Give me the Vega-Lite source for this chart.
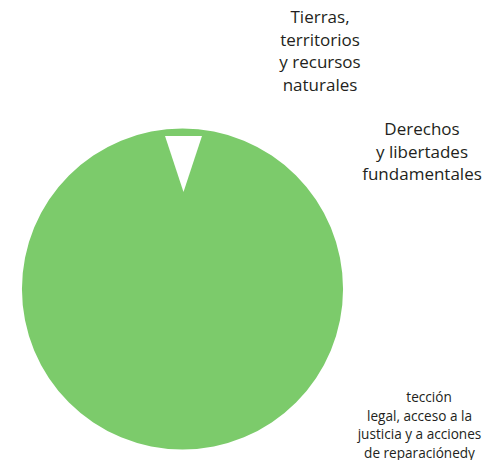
{
  "$schema": "https://vega.github.io/schema/vega-lite/v6.json",
  "width": 491,
  "height": 460,
  "autosize": {"type": "none"},
  "padding": 0,
  "background": "white",
  "config": {"view": {"stroke": null}},
  "datasets": {
    "pie": [{"category": "Protección legal, acceso a la justicia y a acciones de reparación", "value": 1, "cx": 182.5, "cy": 289}],
    "gap": [{"category": "Tierras, territorios y recursos naturales", "gx": 183.5, "gy": 164}],
    "bigLabels": [
      {"label": "Tierras,\nterritorios\ny recursos\nnaturales", "lx": 320, "ly": 23},
      {"label": "Derechos\ny libertades\nfundamentales", "lx": 422, "ly": 135}
    ],
    "smallLabels": [
      {"label": "tección", "lx": 429, "ly": 402},
      {"label": "legal, acceso a la\njusticia y a acciones\nde reparaciónedy", "lx": 419.5, "ly": 420.5}
    ]
  },
  "layer": [
    {
      "data": {"name": "pie"},
      "mark": {"type": "arc", "outerRadius": 160.5, "color": "#7ccb6b", "strokeWidth": 0},
      "encoding": {
        "theta": {"field": "value", "type": "quantitative"},
        "x": {"field": "cx", "type": "quantitative", "scale": {"domain": [0, 491], "nice": false, "zero": false}, "axis": null},
        "y": {"field": "cy", "type": "quantitative", "scale": {"domain": [0, 460], "reverse": true, "nice": false, "zero": false}, "axis": null}
      }
    },
    {
      "data": {"name": "gap"},
      "mark": {"type": "point", "shape": "M-0.66,-1L0.66,-1L0,1Z", "size": 3136, "filled": true, "color": "white", "opacity": 1, "strokeWidth": 0},
      "encoding": {
        "x": {"field": "gx", "type": "quantitative"},
        "y": {"field": "gy", "type": "quantitative"}
      }
    },
    {
      "data": {"name": "bigLabels"},
      "mark": {"type": "text", "font": "Open Sans", "fontSize": 17, "lineBreak": "\n", "lineHeight": 22.5, "align": "center", "baseline": "alphabetic", "color": "#231f20"},
      "encoding": {
        "x": {"field": "lx", "type": "quantitative"},
        "y": {"field": "ly", "type": "quantitative"},
        "text": {"field": "label", "type": "nominal"}
      }
    },
    {
      "data": {"name": "smallLabels"},
      "mark": {"type": "text", "font": "Open Sans", "fontSize": 13.6, "lineBreak": "\n", "lineHeight": 18.5, "align": "center", "baseline": "alphabetic", "color": "#231f20"},
      "encoding": {
        "x": {"field": "lx", "type": "quantitative"},
        "y": {"field": "ly", "type": "quantitative"},
        "text": {"field": "label", "type": "nominal"}
      }
    }
  ]
}
